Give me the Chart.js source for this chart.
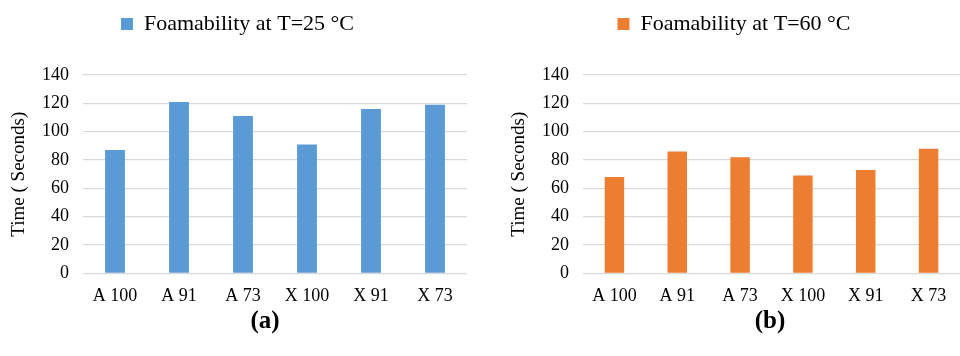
<!DOCTYPE html>
<html>
<head>
<meta charset="utf-8">
<script src="https://cdn.jsdelivr.net/npm/chart.js@4.4.0/dist/chart.umd.min.js"></script>
<style>
  body { margin: 0; background: #fff; width: 960px; height: 356px; position: relative; overflow: hidden; }
  .panel { position: absolute; top: 0; width: 480px; height: 311px; }
  .tag { position: absolute; top: 306px; width: 100px; text-align: center; font: bold 25px "Liberation Serif", serif; color: #000; }
</style>
</head>
<body>
<div class="panel" style="left:0"><canvas id="chartA"></canvas></div>
<div class="panel" style="left:480px"><canvas id="chartB"></canvas></div>
<div class="tag" style="left:215px">(a)</div>
<div class="tag" style="left:720px">(b)</div>
<script>
const categories = ["A 100", "A 91", "A 73", "X 100", "X 91", "X 73"];
const foam25 = [87, 121, 111, 91, 116, 119];
const foam60 = [68, 86, 82, 69, 73, 88];
const yTicks = [0, 20, 40, 60, 80, 100, 120, 140];

const serif = "'Liberation Serif', 'Times New Roman', serif";

// Push the plot down below the legend by a fixed amount
const legendGap = {
    id: "legendGap",
    beforeInit(chart) {
        const fit = chart.legend.fit;
        chart.legend.fit = function () {
            fit.bind(chart.legend)();
            this.height = 75;
        };
    }
};

// Build one bar panel
function makeChart(id, label, values, color, leftPad, rightPad) {
    const ctx = document.getElementById(id).getContext("2d");
    return new Chart(ctx, {
        type: "bar",
        data: {
            labels: categories,
            datasets: [{
                label: label,
                data: values,
                backgroundColor: color,
                barPercentage: 0.62,
                categoryPercentage: 0.5
            }]
        },
        options: {
            responsive: true,
            maintainAspectRatio: false,
            animation: false,
            layout: { padding: { top: 0, right: rightPad, bottom: 0, left: leftPad } },
            plugins: {
                tooltip: { enabled: false },
                legend: {
                    position: "top",
                    labels: {
                        boxWidth: 12,
                        boxHeight: 12,
                        padding: 13,
                        color: "#000",
                        font: { family: serif, size: 22 }
                    }
                }
            },
            scales: {
                x: {
                    grid: { display: false },
                    border: { display: false },
                    ticks: { color: "#000", font: { family: serif, size: 18 }, padding: 4, maxRotation: 0 }
                },
                y: {
                    min: 0,
                    max: 140,
                    afterBuildTicks: (axis) => { axis.ticks = yTicks.map(v => ({ value: v })); },
                    afterFit: (axis) => { axis.width = 75; },
                    grid: { color: "#d9d9d9", lineWidth: 1.3, drawTicks: false },
                    border: { display: false },
                    ticks: { color: "#000", font: { family: serif, size: 18 }, padding: 14 },
                    title: {
                        display: true,
                        text: "Time ( Seconds)",
                        color: "#000",
                        font: { family: serif, size: 19 },
                        padding: 0
                    }
                }
            }
        },
        plugins: [legendGap]
    });
}

makeChart("chartA", "Foamability at T=25 °C", foam25, "#5b9bd5", 8, 13);
makeChart("chartB", "Foamability at T=60 °C", foam60, "#ed7d31", 28, 0);
</script>
</body>
</html>
